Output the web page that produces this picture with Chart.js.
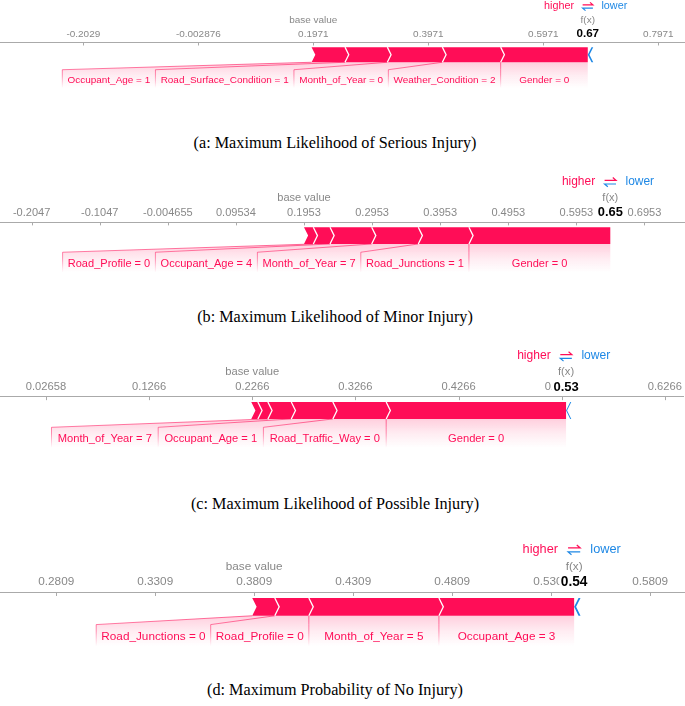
<!DOCTYPE html>
<html>
<head>
<meta charset="utf-8">
<script src="https://cdn.jsdelivr.net/npm/chart.js@4.4.1/dist/chart.umd.min.js"></script>
<style>
  body { margin: 0; background: #fff; width: 685px; height: 706px; position: relative; overflow: hidden; }
  canvas { position: absolute; left: 0; }
  .caption { position: absolute; left: 0; width: 670px; text-align: center; font-family: "Liberation Serif", serif; font-size: 16.2px; line-height: 20px; color: #000; }
</style>
</head>
<body>
<canvas id="forceA" width="685" height="150"></canvas>
<canvas id="forceB" width="685" height="150"></canvas>
<canvas id="forceC" width="685" height="150"></canvas>
<canvas id="forceD" width="685" height="150"></canvas>
<div class="caption" style="top:133px">(a: Maximum Likelihood of Serious Injury)</div>
<div class="caption" style="top:307px">(b: Maximum Likelihood of Minor Injury)</div>
<div class="caption" style="top:494px">(c: Maximum Likelihood of Possible Injury)</div>
<div class="caption" style="top:680px">(d: Maximum Probability of No Injury)</div>
<script>
// (a) serious injury
const baseA = 0.1971;
const ticksA = ["-0.2029", "-0.002876", "0.1971", "0.3971", "0.5971", "0.7971"];
const featuresA = ["Occupant_Age = 1", "Road_Surface_Condition = 1", "Month_of_Year = 0", "Weather_Condition = 2", "Gender = 0"];
const effectsA = [0.0581, 0.0736, 0.0957, 0.1014, 0.1515];
const negativeA = [-0.003];

// (b) minor injury
const baseB = 0.1953;
const ticksB = ["-0.2047", "-0.1047", "-0.004655", "0.09534", "0.1953", "0.2953", "0.3953", "0.4953", "0.5953", "0.6953"];
const featuresB = ["", "Road_Profile = 0", "Occupant_Age = 4", "Month_of_Year = 7", "Road_Junctions = 1", "Gender = 0"];
const effectsB = [0.0137, 0.0245, 0.0612, 0.0684, 0.0744, 0.2076];
const negativeB = [];

// (c) possible injury
const baseC = 0.2266;
const ticksC = ["0.02658", "0.1266", "0.2266", "0.3266", "0.4266", "0.5266", "0.6266"];
const featuresC = ["", "", "Month_of_Year = 7", "Occupant_Age = 1", "Road_Traffic_Way = 0", "Gender = 0"];
const effectsC = [0.0064, 0.0097, 0.0227, 0.0403, 0.0517, 0.1744];
const negativeC = [-0.001];

// (d) no injury
const baseD = 0.3809;
const ticksD = ["0.2809", "0.3309", "0.3809", "0.4309", "0.4809", "0.5309", "0.5809"];
const featuresD = ["Road_Junctions = 0", "Road_Profile = 0", "Month_of_Year = 5", "Occupant_Age = 3"];
const effectsD = [0.0114, 0.0172, 0.0657, 0.0683];
const negativeD = [-0.001];

const PINK = "#ff0d57";
const BLUE = "#1e88e5";
const FONT = "'Liberation Sans', Arial, sans-serif";

const panels = [
  { id: "forceA", axisY: 42.3, s: 0.83, pad: 10.4, min: -0.3478, max: 0.8435, base: baseA, ticks: ticksA, features: featuresA, effects: effectsA, neg: negativeA },
  { id: "forceB", axisY: 221.7, s: 0.92, pad: 10.3, min: -0.2511, max: 0.7548, base: baseB, ticks: ticksB, features: featuresB, effects: effectsB, neg: negativeB },
  { id: "forceC", axisY: 396.7, s: 0.93, pad: 12.5, min: -0.0180, max: 0.6451, base: baseC, ticks: ticksC, features: featuresC, effects: effectsC, neg: negativeC },
  { id: "forceD", axisY: 592.7, s: 0.98, pad: 10.3, min: 0.2525, max: 0.5985, base: baseD, ticks: ticksD, features: featuresD, effects: effectsD, neg: negativeD },
];

const sum = (arr) => arr.reduce((a, b) => a + b, 0);
const font = (size, bold) => (bold ? "bold " : "") + size + "px " + FONT;

const makeForcePlugin = (p) => ({
  id: "forcePlot",
  afterDraw(chart) {
    const ctx = chart.ctx;
    const xs = chart.scales.x;
    const y0 = chart.chartArea.top;
    const s = p.s;
    const px = (v) => xs.getPixelForValue(v);

    ctx.save();
    // tick marks below the axis line
    ctx.strokeStyle = "#aaa";
    ctx.lineWidth = 1;
    xs.ticks.forEach((t) => {
      const x = Math.round(px(t.value)) + 0.5;
      ctx.beginPath();
      ctx.moveTo(x, y0);
      ctx.lineTo(x, y0 + 3.5 * s);
      ctx.stroke();
    });

    const sumPos = sum(p.effects);
    const fx = p.base + sumPos + sum(p.neg);
    let acc = fx - sumPos;
    const segs = p.effects.map((e, i) => {
      const a = acc;
      acc += e;
      return { x0: px(a), x1: px(acc), label: p.features[i] };
    });
    const fxPx = px(fx);
    const top = y0 + 5.5 * s, bot = y0 + 23.7 * s, mid = (top + bot) / 2, h = 4.5 * s;

    // label layout, right to left
    ctx.font = font(12 * s);
    let prevLeft = fxPx;
    const placed = [];
    for (let i = segs.length - 1; i >= 0; i--) {
      const g = segs[i];
      if (!g.label) continue;
      const w = Math.max(ctx.measureText(g.label).width + p.pad, g.x1 - g.x0);
      const right = Math.min((g.x0 + g.x1) / 2 + w / 2, prevLeft);
      const left = right - w;
      placed.push({ x0: g.x0, x1: g.x1, label: g.label, left, right });
      prevLeft = left;
    }
    const labTop = bot + 9 * s, labBot = bot + 31 * s;

    const fillGrad = ctx.createLinearGradient(0, bot, 0, labBot);
    fillGrad.addColorStop(0, "rgba(255,13,87,0.2)");
    fillGrad.addColorStop(0.5, "rgba(255,13,87,0.08)");
    fillGrad.addColorStop(1, "rgba(255,13,87,0)");
    placed.forEach((l) => {
      ctx.beginPath();
      ctx.moveTo(l.x0, bot);
      ctx.lineTo(l.x1, bot);
      ctx.lineTo(l.right, labTop);
      ctx.lineTo(l.right, labBot);
      ctx.lineTo(l.left, labBot);
      ctx.lineTo(l.left, labTop);
      ctx.closePath();
      ctx.fillStyle = fillGrad;
      ctx.fill();
    });
    const lineGrad = ctx.createLinearGradient(0, bot, 0, labBot);
    lineGrad.addColorStop(0, "rgba(255,13,87,0.6)");
    lineGrad.addColorStop(0.5, "rgba(255,13,87,0.45)");
    lineGrad.addColorStop(1, "rgba(255,13,87,0)");
    ctx.strokeStyle = lineGrad;
    ctx.lineWidth = 1;
    placed.forEach((l) => {
      ctx.beginPath();
      ctx.moveTo(l.x0, bot);
      ctx.lineTo(l.left, labTop);
      ctx.lineTo(l.left, labBot);
      ctx.stroke();
    });

    // positive bar
    const xStart = segs[0].x0;
    ctx.beginPath();
    ctx.moveTo(xStart, top);
    ctx.lineTo(fxPx, top);
    ctx.lineTo(fxPx, bot);
    ctx.lineTo(xStart, bot);
    ctx.lineTo(xStart + h, mid);
    ctx.closePath();
    ctx.fillStyle = PINK;
    ctx.fill();
    ctx.strokeStyle = "#fff";
    ctx.lineWidth = 1.3;
    segs.slice(1).forEach((g) => {
      ctx.beginPath();
      ctx.moveTo(g.x0, top);
      ctx.lineTo(g.x0 + h, mid);
      ctx.lineTo(g.x0, bot);
      ctx.stroke();
    });

    // negative bar
    let nacc = fx;
    p.neg.forEach((e) => {
      const a = px(nacc);
      nacc -= e;
      const b = px(nacc);
      ctx.beginPath();
      ctx.moveTo(a, mid);
      ctx.lineTo(a + h, top);
      ctx.lineTo(b + h, top);
      ctx.lineTo(b, mid);
      ctx.lineTo(b + h, bot);
      ctx.lineTo(a + h, bot);
      ctx.closePath();
      ctx.fillStyle = BLUE;
      ctx.fill();
    });

    // feature labels
    ctx.font = font(12 * s);
    ctx.fillStyle = PINK;
    ctx.textAlign = "center";
    ctx.textBaseline = "middle";
    placed.forEach((l) => ctx.fillText(l.label, (l.left + l.right) / 2, bot + 21.8 * s));

    // base value / f(x)
    ctx.fillStyle = "#888";
    ctx.font = font(12 * s);
    ctx.fillText("base value", px(p.base), y0 - 26.5 * s);
    ctx.fillText("f(x)", fxPx, y0 - 26.5 * s);
    const fxText = fx.toFixed(2);
    ctx.font = font(14 * s, true);
    const tw = ctx.measureText(fxText).width;
    ctx.fillStyle = "#fff";
    ctx.fillRect(fxPx - tw / 2 - 1.5, y0 - 10.5 * s - 8 * s, tw + 3, 16 * s);
    ctx.fillStyle = "#000";
    ctx.fillText(fxText, fxPx, y0 - 10.5 * s);

    // higher / lower legend
    const ly = y0 - 44 * s;
    ctx.font = font(13 * s);
    ctx.fillStyle = PINK;
    ctx.textAlign = "right";
    ctx.fillText("higher", fxPx - 16.5 * s, ly);
    ctx.fillStyle = BLUE;
    ctx.textAlign = "left";
    ctx.fillText("lower", fxPx + 16.5 * s, ly);
    const aw = 6.2 * s;
    ctx.lineWidth = 1.2;
    ctx.strokeStyle = PINK;
    ctx.beginPath();
    ctx.moveTo(fxPx - aw, ly - 1.5 * s);
    ctx.lineTo(fxPx + aw, ly - 1.5 * s);
    ctx.lineTo(fxPx + aw - 3.5 * s, ly - 4.5 * s);
    ctx.stroke();
    ctx.strokeStyle = BLUE;
    ctx.beginPath();
    ctx.moveTo(fxPx + aw, ly + 2.5 * s);
    ctx.lineTo(fxPx - aw, ly + 2.5 * s);
    ctx.lineTo(fxPx - aw + 3.5 * s, ly + 5.5 * s);
    ctx.stroke();
    ctx.restore();
  },
});

panels.forEach((p) => {
  const canvas = document.getElementById(p.id);
  const chart = new Chart(canvas, {
    type: "scatter",
    data: { datasets: [] },
    options: {
      responsive: false,
      animation: false,
      layout: { padding: { top: 52 * p.s, left: 0, right: 0, bottom: 0 } },
      plugins: { legend: { display: false }, tooltip: { enabled: false } },
      scales: {
        x: {
          type: "linear",
          position: "top",
          min: p.min,
          max: p.max,
          afterBuildTicks: (axis) => {
            axis.ticks = p.ticks.map((t) => ({ value: parseFloat(t) }));
          },
          ticks: {
            autoSkip: false,
            maxRotation: 0,
            padding: 3.3 * p.s,
            color: "#888",
            font: { family: FONT, size: 12 * p.s },
            callback: (v, i) => p.ticks[i],
          },
          grid: { display: false, drawTicks: false },
          border: { display: true, color: "#aaa", width: 1 },
        },
        y: { display: false, min: 0, max: 1 },
      },
    },
    plugins: [makeForcePlugin(p)],
  });
  canvas.style.top = (p.axisY - chart.chartArea.top) + "px";
});
</script>
</body>
</html>
